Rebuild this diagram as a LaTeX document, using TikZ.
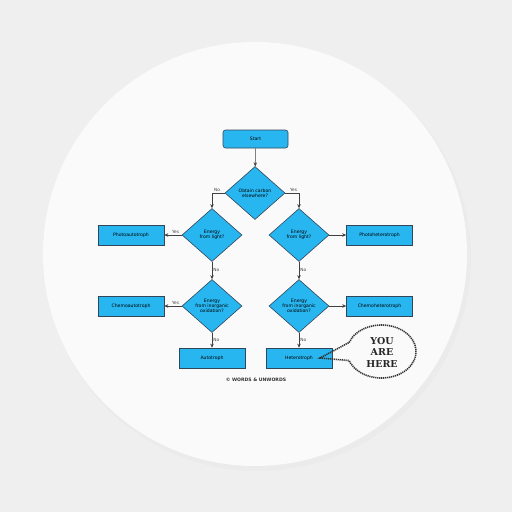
\documentclass[tikz,border=0pt]{standalone}
\usepackage{fontspec}
\setmainfont{DejaVu Sans}
\newfontfamily\slabfont{DejaVu Serif}
\usetikzlibrary{shapes.geometric,arrows.meta,calc}
\definecolor{boxfill}{RGB}{40,182,240}
\definecolor{boxline}{RGB}{50,70,90}
\definecolor{bg}{RGB}{239,239,239}
\definecolor{badge}{RGB}{250,250,250}
\tikzset{
  procbox/.style={draw=boxline, line width=0.6pt, fill=boxfill, minimum width=66pt, minimum height=20pt, inner sep=0pt, font=\fontsize{4.6}{5.2}\selectfont, align=center},
  startbox/.style={procbox, rounded corners=2.5pt, minimum height=18pt, minimum width=65pt},
  decision/.style={draw=boxline, line width=0.6pt, fill=boxfill, diamond, minimum width=60pt, minimum height=53pt, inner sep=0pt, font=\fontsize{4.6}{5.2}\selectfont, align=center},
  conn/.style={draw=black!75, line width=0.6pt, -{Stealth[length=4pt,width=3.5pt]}},
  lab/.style={font=\fontsize{4.3}{5}\selectfont, text=black!75, inner sep=1pt}
}
\begin{document}
\begin{tikzpicture}[x=1pt,y=-1pt]
\fill[bg] (0,0) rectangle (512,512);
\useasboundingbox (0,0) rectangle (512,512);
% badge
\fill[black!8] (258,258) circle (213);
\fill[badge] (255,254) circle (212);
% nodes
\node[startbox] (start) at (255.5,139) {Start};
\node[decision] (d1) at (255,193) {Obtain carbon\\elsewhere?};
\node[decision] (d2l) at (212,235) {Energy\\from light?};
\node[decision] (d2r) at (299,235) {Energy\\from light?};
\node[decision] (d3l) at (212,306) {Energy\\from inorganic\\oxidation?};
\node[decision] (d3r) at (299,306) {Energy\\from inorganic\\oxidation?};
\node[procbox] (pa) at (131,235) {Photoautotroph};
\node[procbox] (ph) at (379.5,235) {Photoheterotroph};
\node[procbox] (ca) at (131,306) {Chemoautotroph};
\node[procbox] (ch) at (379.5,306) {Chemoheterotroph};
\node[procbox] (au) at (212,358) {Autotroph};
\node[procbox] (he) at (299,358) {Heterotroph};
\node[font=\bfseries\fontsize{4.6}{5}\selectfont, text=black!80] (copy) at (256,380) {© WORDS \& UNWORDS};
% connectors
\draw[conn] (start) -- (d1);
\draw[conn] (d1.west) -| node[lab, pos=0.3, above] {No} (d2l.north);
\draw[conn] (d1.east) -| node[lab, pos=0.3, above] {Yes} (d2r.north);
\draw[conn] (d2l.west) -- node[lab, pos=0.35, above] {Yes} (pa.east);
\draw[conn] (d2r.east) -- (ph.west);
\draw[conn] (d2l.south) -- node[lab, pos=0.45, right] {No} (d3l.north);
\draw[conn] (d2r.south) -- node[lab, pos=0.45, right] {No} (d3r.north);
\draw[conn] (d3l.west) -- node[lab, pos=0.35, above] {Yes} (ca.east);
\draw[conn] (d3r.east) -- (ch.west);
\draw[conn] (d3l.south) -- node[lab, pos=0.45, right] {No} (au.north);
\draw[conn] (d3r.south) -- node[lab, pos=0.45, right] {No} (he.north);
% YOU ARE HERE bubble
\coordinate (tip) at (320,358);
\node[ellipse, minimum width=69pt, minimum height=53pt, inner sep=0pt] (bub) at (382,351.5) {};
\node[font=\slabfont\bfseries\fontsize{9.5}{11.5}\selectfont, align=center, text=black!85] (yah) at (382,352) {YOU\\ARE\\HERE};
\draw[black!80, line width=1.6pt, dash pattern=on 1.2pt off 0.8pt]
  ($(bub.center)+(200:35 and 26.5)$) arc[start angle=200, end angle=520, x radius=34.5, y radius=26.5]
  -- (tip) -- cycle;
\end{tikzpicture}
\end{document}
